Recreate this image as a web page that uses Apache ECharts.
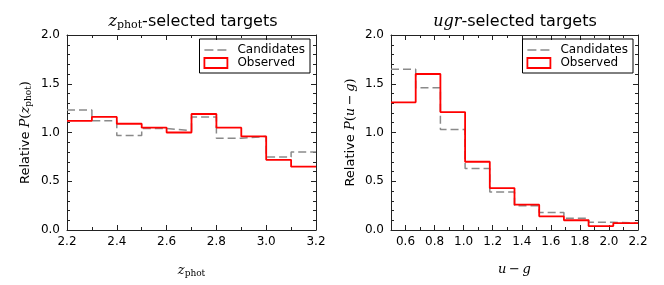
<!DOCTYPE html>
<html>
<head>
<meta charset="utf-8">
<script src="https://cdn.jsdelivr.net/npm/echarts@6/dist/echarts.min.js"></script>
<style>html,body{margin:0;padding:0;background:#fff;}#c{width:664px;height:285px;}</style>
</head>
<body>
<div id="c"></div>
<script>
// ---- data ----
const zEdges = [2.2, 2.3, 2.4, 2.5, 2.6, 2.7, 2.8, 2.9, 3.0, 3.1, 3.2];
const zCandidates = [1.23, 1.12, 0.97, 1.04, 1.02, 1.16, 0.94, 0.96, 0.75, 0.80];
const zObserved   = [1.12, 1.16, 1.09, 1.05, 1.00, 1.19, 1.05, 0.96, 0.72, 0.65];

const ugEdges = [0.5, 0.67, 0.84, 1.01, 1.18, 1.35, 1.52, 1.69, 1.86, 2.03, 2.2];
const ugCandidates = [1.65, 1.46, 1.03, 0.63, 0.39, 0.25, 0.18, 0.12, 0.08, 0.07];
const ugObserved   = [1.31, 1.60, 1.21, 0.70, 0.43, 0.26, 0.14, 0.10, 0.04, 0.07];

const zTicks = [2.2, 2.4, 2.6, 2.8, 3.0, 3.2];
const ugTicks = [0.6, 0.8, 1.0, 1.2, 1.4, 1.6, 1.8, 2.0, 2.2];

function toStep(edges, vals) {
  const out = [];
  for (let i = 0; i < vals.length; i++) out.push([edges[i], vals[i]]);
  out.push([edges[edges.length - 1], vals[vals.length - 1]]);
  return out;
}

const SANS = 'DejaVu Sans';
const SERIF = 'DejaVu Serif';
const GRAY = '#8a8a8a';
const RED = '#ff0000';
const AX = '#222';

const richT = {
  n: {fontFamily: SANS, fontSize: 16, color: '#000'},
  i: {fontFamily: SERIF, fontStyle: 'italic', fontSize: 16, color: '#000'},
  sub: {fontFamily: SERIF, fontSize: 11, color: '#000', padding: [7, 0, 0, 0]}
};
const richX = {
  s: {fontFamily: SERIF, fontSize: 13, color: '#000'},
  i: {fontFamily: SERIF, fontStyle: 'italic', fontSize: 13, color: '#000'},
  sub: {fontFamily: SERIF, fontSize: 9, color: '#000', padding: [6, 0, 0, 0]}
};
const richY = {
  n: {fontFamily: SANS, fontSize: 13, color: '#000'},
  s: {fontFamily: SERIF, fontSize: 13, color: '#000'},
  i: {fontFamily: SERIF, fontStyle: 'italic', fontSize: 13, color: '#000'},
  sub: {fontFamily: SERIF, fontSize: 9, color: '#000', padding: [6, 0, 0, 0]}
};

const grids = [
  {left: 67, right: 348, top: 35, bottom: 55},
  {left: 391, right: 26, top: 35, bottom: 55}
];

function xMain(grid, min, max, ticks, pos, labels, name) {
  return {
    type: 'value', gridIndex: grid, min: min, max: max, position: pos,
    axisLine: {show: true, onZero: false, lineStyle: {color: AX, width: 1}},
    axisTick: {show: true, inside: true, length: 5, customValues: ticks, lineStyle: {color: AX}},
    axisLabel: {show: labels, customValues: ticks, margin: 6, fontFamily: SANS, fontSize: 12, color: '#000',
      formatter: v => v.toFixed(1)},
    splitLine: {show: false},
    name: name || '', nameLocation: 'middle', nameGap: 33,
    nameTextStyle: {rich: richX}
  };
}
function xMinor(grid, min, max, pos) {
  return {
    type: 'value', gridIndex: grid, min: min, max: max, interval: 0.1, position: pos,
    axisLine: {show: false, onZero: false},
    axisTick: {show: true, inside: true, length: 3, lineStyle: {color: AX}},
    axisLabel: {show: false}, splitLine: {show: false}
  };
}
function yAx(grid, pos, labels, name) {
  return {
    type: 'value', gridIndex: grid, min: 0, max: 2, interval: 0.5, position: pos,
    axisLine: {show: true, onZero: false, lineStyle: {color: AX, width: 1}},
    axisTick: {show: true, inside: true, length: 5, lineStyle: {color: AX}},
    minorTick: {show: true, splitNumber: 5, length: 3, lineStyle: {color: AX}},
    axisLabel: {show: labels, margin: 7, fontFamily: SANS, fontSize: 12, color: '#000', formatter: v => v.toFixed(1)},
    splitLine: {show: false}, minorSplitLine: {show: false},
    name: name || '', nameLocation: 'middle', nameGap: 34, nameRotate: 90,
    nameTextStyle: {rich: richY}
  };
}

const zName = '{i|z}{sub|phot}';
const ugName = '{i|u}{s|\u2009\u2212\u2009}{i|g}';

function legendFor(right) {
  return {
    orient: 'vertical', right: right, top: 39,
    borderColor: '#000', borderWidth: 1, padding: [5, 5, 4, 4], itemGap: 1,
    itemWidth: 23, itemHeight: 10,
    textStyle: {fontFamily: SANS, fontSize: 12, color: '#000', padding: [0, 0, 0, 5]},
    data: [
      {name: 'Candidates', itemStyle: {opacity: 0}, lineStyle: {color: GRAY, width: 1.5, type: [9, 4]}},
      {name: 'Observed', icon: 'rect', itemStyle: {color: 'rgba(0,0,0,0)', borderColor: RED, borderWidth: 1.8}}
    ]
  };
}

const option = {
  animation: false,
  backgroundColor: '#fff',
  grid: grids,
  xAxis: [
    xMain(0, 2.2, 3.2, zTicks, 'bottom', true, zName),
    xMain(0, 2.2, 3.2, zTicks, 'top', false),
    xMinor(0, 2.2, 3.2, 'bottom'),
    xMinor(0, 2.2, 3.2, 'top'),
    xMain(1, 0.5, 2.2, ugTicks, 'bottom', true, ugName),
    xMain(1, 0.5, 2.2, ugTicks, 'top', false),
    xMinor(1, 0.5, 2.2, 'bottom'),
    xMinor(1, 0.5, 2.2, 'top')
  ],
  yAxis: [
    yAx(0, 'left', true, '{n|Relative }{i|P}{s|(}{i|z}{sub|phot}{s|)}'),
    yAx(0, 'right', false),
    yAx(1, 'left', true, '{n|Relative }{i|P}{s|(}{i|u}{s|\u2009\u2212\u2009}{i|g}{s|)}'),
    yAx(1, 'right', false)
  ],
  legend: [legendFor(354), legendFor(31)],
  graphic: [
    {type: 'text', x: 193, y: 22, style: {text: '{i|z}{sub|phot}{n|-selected targets}', rich: richT, align: 'center', verticalAlign: 'middle'}},
    {type: 'text', x: 515, y: 22, style: {text: '{i|ugr}{n|-selected targets}', rich: richT, align: 'center', verticalAlign: 'middle'}}
  ],
  series: [
    {name: 'Candidates', type: 'line', step: 'end', xAxisIndex: 0, yAxisIndex: 0, symbol: 'none',
      data: toStep(zEdges, zCandidates), lineStyle: {color: GRAY, width: 1.5, type: [8, 4]}, itemStyle: {color: GRAY}, z: 2},
    {name: 'Observed', type: 'line', step: 'end', xAxisIndex: 0, yAxisIndex: 0, symbol: 'none',
      data: toStep(zEdges, zObserved), lineStyle: {color: RED, width: 1.8}, itemStyle: {color: RED}, z: 3},
    {name: 'Candidates', type: 'line', step: 'end', xAxisIndex: 4, yAxisIndex: 2, symbol: 'none',
      data: toStep(ugEdges, ugCandidates), lineStyle: {color: GRAY, width: 1.5, type: [8, 4]}, itemStyle: {color: GRAY}, z: 2},
    {name: 'Observed', type: 'line', step: 'end', xAxisIndex: 4, yAxisIndex: 2, symbol: 'none',
      data: toStep(ugEdges, ugObserved), lineStyle: {color: RED, width: 1.8}, itemStyle: {color: RED}, z: 3}
  ]
};

const chart = echarts.init(document.getElementById('c'), null, {renderer: 'canvas'});
chart.setOption(option);
</script>
</body>
</html>
